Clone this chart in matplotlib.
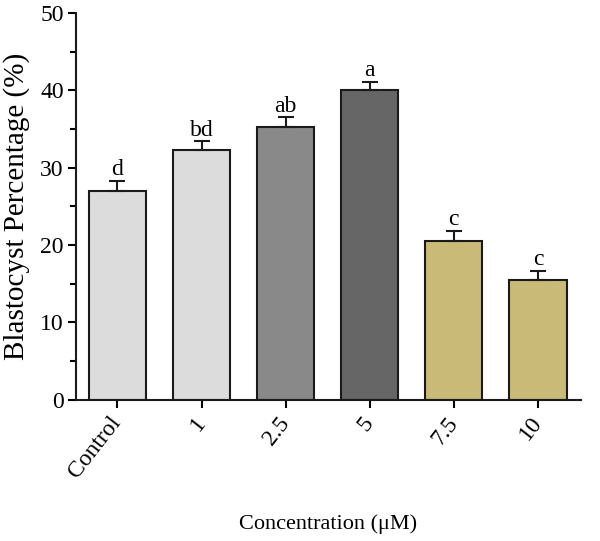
import matplotlib.pyplot as plt
from matplotlib.ticker import MultipleLocator
from matplotlib.transforms import ScaledTranslation

categories = ['Control', '1', '2.5', '5', '7.5', '10']
values = [27.0, 32.3, 35.3, 40.1, 20.5, 15.5]
errors = [1.3, 1.1, 1.2, 1.0, 1.3, 1.2]
letters = ['d', 'bd', 'ab', 'a', 'c', 'c']
colors = ['#dcdcdc', '#dcdcdc', '#898989', '#666666', '#c9ba78', '#c9ba78']

plt.rcParams['font.family'] = ['Liberation Serif', 'DejaVu Serif']

fig = plt.figure(figsize=(6, 5.41), dpi=100)
ax = fig.add_axes([0.127, 0.261, 0.841, 0.715])

x = list(range(len(categories)))
ax.bar(x, values, width=0.68, color=colors, edgecolor='#1a1a1a', linewidth=1.5,
       yerr=[[0] * len(errors), errors], capsize=6,
       error_kw=dict(elinewidth=1.5, capthick=1.5, ecolor='#1a1a1a'))

for xi, v, e, lab in zip(x, values, errors, letters):
    ax.text(xi, v + e + 0.1, lab, ha='center', va='bottom', fontsize=17)

ax.set_xlim(-0.49, 5.51)
ax.set_ylim(0, 50)
ax.yaxis.set_major_locator(MultipleLocator(10))
ax.yaxis.set_minor_locator(MultipleLocator(5))
ax.set_xticks(x)
ax.set_xticklabels(categories, rotation=52, ha='right', va='center',
                   rotation_mode='anchor', fontsize=17)
# nudge rotated labels a little left so they end just under the tick
shift = ScaledTranslation(-6 / 100, 0, fig.dpi_scale_trans)
for lbl in ax.get_xticklabels():
    lbl.set_transform(lbl.get_transform() + shift)
ax.tick_params(axis='y', labelsize=17, width=1.5, length=6, pad=3)
ax.tick_params(axis='y', which='minor', width=1.5, length=4)
ax.tick_params(axis='x', width=1.5, length=6, pad=8)

for side in ['top', 'right']:
    ax.spines[side].set_visible(False)
for side in ['left', 'bottom']:
    ax.spines[side].set_linewidth(1.5)
    ax.spines[side].set_color('#1a1a1a')

ax.set_ylabel('Blastocyst Percentage (%)', fontsize=21)
ax.yaxis.set_label_coords(-0.092, 0.5)
ax.set_xlabel('Concentration (μM)', fontsize=16)
ax.xaxis.set_label_coords(0.5, -0.297)

fig.savefig('out.png', dpi=100)
